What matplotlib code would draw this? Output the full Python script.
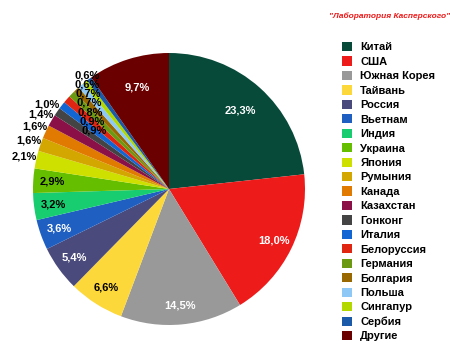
import numpy as np
import matplotlib.pyplot as plt
from matplotlib.patches import Patch

# --- Data ---
countries = ['Китай', 'США', 'Южная Корея', 'Тайвань', 'Россия', 'Вьетнам',
             'Индия', 'Украина', 'Япония', 'Румыния', 'Канада', 'Казахстан',
             'Гонконг', 'Италия', 'Белоруссия', 'Германия', 'Болгария',
             'Польша', 'Сингапур', 'Сербия', 'Другие']
shares = [23.3, 18.0, 14.5, 6.6, 5.4, 3.6, 3.2, 2.9, 2.1, 1.6, 1.6, 1.4,
          1.0, 0.9, 0.9, 0.8, 0.7, 0.7, 0.6, 0.6, 9.7]
colors = ['#074a3a', '#ee1b1b', '#999999', '#fdd83a', '#4a4a7c', '#1f5fc2',
          '#18cc70', '#66be00', '#cde000', '#d4a600', '#e07a00', '#8c1048',
          '#444444', '#1266d4', '#e02512', '#6b9a12', '#996800', '#8ec8f6',
          '#b2d800', '#1a5aa8', '#6a0000']
title = '"Лаборатория Касперского"'

plt.rcParams['font.family'] = ['Liberation Sans', 'DejaVu Sans']

W, H = 450, 359
fig = plt.figure(figsize=(W / 100, H / 100), dpi=100)
cx, cy, r = 169, 189, 136
ax = fig.add_axes([(cx - r) / W, (H - cy - r) / H, 2 * r / W, 2 * r / H])

wedges, _ = ax.pie(shares, colors=colors, startangle=90, counterclock=False,
                   wedgeprops=dict(linewidth=0))
ax.set_xlim(-1, 1)
ax.set_ylim(-1, 1)
ax.set_aspect('auto')
ax.axis('off')

# labels: big slices inside, mid slices at the rim, tiny slices stacked
white_text = {'Китай', 'США', 'Южная Корея', 'Россия', 'Вьетнам', 'Другие'}
small_idx = 0
for w, name, val in zip(wedges, countries, shares):
    ang = np.deg2rad((w.theta1 + w.theta2) / 2)
    if val >= 2.5:
        dist = 0.78 if name in ('Китай', 'Другие') else 0.86
    elif val >= 1.0:
        dist = 1.09
    else:
        dist = 0.70 + small_idx * 0.055
        small_idx += 1
    txt = f'{val:.1f}%'.replace('.', ',')
    ax.text(dist * np.cos(ang), dist * np.sin(ang), txt, ha='center', va='center',
            fontsize=8, fontweight='bold',
            color='white' if name in white_text else 'black')

fig.text(390 / W, 1 - 16 / H, title, color='#ee1b1b', fontsize=6,
         fontweight='bold', style='italic', ha='center', va='center')

handles = [Patch(facecolor=c, edgecolor='none') for c in colors]
fig.legend(handles, countries, loc='upper left', bbox_to_anchor=(342 / W, 1 - 42 / H),
           frameon=False, prop={'weight': 'bold', 'size': 8},
           handlelength=0.9, handleheight=0.9, handletextpad=0.75,
           labelspacing=0.36, borderpad=0, borderaxespad=0)

fig.savefig('out.png', dpi=100)
